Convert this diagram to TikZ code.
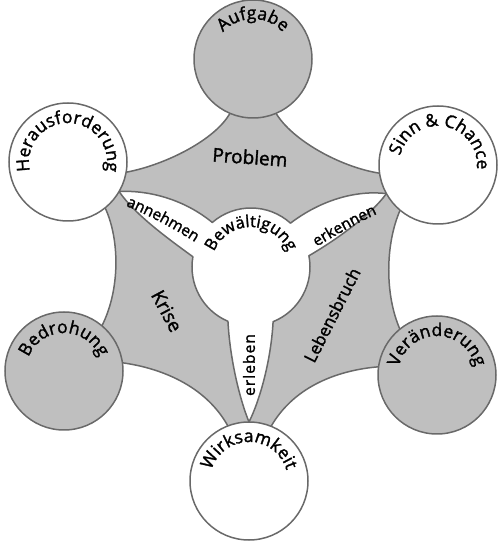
\documentclass[tikz,border=0pt]{standalone}
\usepackage{fontspec}
\setmainfont{Open Sans}[FakeBold=1.6]
\newfontfamily\stemfamily{Open Sans}[FakeBold=1.6,LetterSpace=7]
\usepackage{tikz}
\usetikzlibrary{calc,backgrounds,decorations.text}

\definecolor{zonegray}{RGB}{191,191,191}
\definecolor{edgegray}{RGB}{105,105,105}
\newcommand\ringfont{\fontsize{17.5}{20}\selectfont}
\newcommand\zonefont{\fontsize{19}{22}\selectfont}
\newcommand\leaffont{\fontsize{15.5}{18}\selectfont}

\begin{document}
\begin{tikzpicture}[x=1pt,y=1pt,
  ball/.style={circle,minimum size=118pt,inner sep=0pt,outer sep=0pt,draw=edgegray,line width=1.5pt},
  zone/.style={fill=zonegray,draw=edgegray,line width=1.5pt,line join=round},
  arclabel/.style={decorate,decoration={text along path,text align=center,text={|\ringfont|#1}}},
  leaflabel/.style={decorate,decoration={text along path,text align=center,text={|\leaffont|#1}}}]
\useasboundingbox (0,0) rectangle (500,541);
% the six circles
\node[ball,fill=zonegray] (auf) at (253,482) {};
\node[ball,fill=white] (hf) at (68,379) {};
\node[ball,fill=white] (sc) at (438,376) {};
\node[ball,fill=zonegray] (bd) at (64,170) {};
\node[ball,fill=zonegray] (vd) at (437,166) {};
\node[ball,fill=white] (wk) at (249,60) {};
\node[circle,minimum size=118pt,inner sep=0pt,outer sep=0pt] (core) at (251,274) {};
% gray zones between them
\begin{pgfonlayer}{background}
\draw[zone] (hf.-10) .. controls (165,376) and (215,401) .. (auf.247) -- (auf.center) -- (auf.293)
  .. controls (292,401) and (340,374) .. (sc.188) -- (sc.center) -- (sc.209)
  .. controls (356,351) and (321,341) .. (core.48) arc[start angle=48,end angle=131,radius=59]
  .. controls (185,341) and (150,351) .. (hf.-30) -- (hf.center) -- cycle;
\draw[zone] (hf.-30) .. controls (135,326) and (170,301) .. (core.170) arc[start angle=170,end angle=247,radius=59]
  .. controls (230,181) and (240,141) .. (wk.90) -- (wk.center) -- (wk.111)
  .. controls (205,156) and (160,173) .. (bd.8) -- (bd.center) -- (bd.50)
  .. controls (120,251) and (120,301) .. (hf.-51) -- (hf.center) -- cycle;
\draw[zone] (sc.209) .. controls (371,326) and (336,301) .. (core.11) arc[start angle=11,end angle=-68,radius=59]
  .. controls (271,181) and (260,141) .. (wk.90) -- (wk.center) -- (wk.68)
  .. controls (295,156) and (340,171) .. (vd.172) -- (vd.center) -- (vd.129)
  .. controls (385,246) and (385,296) .. (sc.230) -- (sc.center) -- cycle;
\end{pgfonlayer}
% curved labels
\path[arclabel=Aufgabe] (auf.center) ++(230:40) arc[start angle=230,end angle=-50,radius=40];
\path[arclabel=Herausforderung] (hf.center) ++(230:39) arc[start angle=230,end angle=-50,radius=39];
\path[arclabel={Sinn {\&} Chance}] (sc.center) ++(220:39) arc[start angle=220,end angle=-60,radius=39];
\path[arclabel=Bedrohung] (bd.center) ++(230:38) arc[start angle=230,end angle=-50,radius=38];
\path[arclabel=Veränderung] (vd.center) ++(230:39) arc[start angle=230,end angle=-50,radius=39];
\path[arclabel=Wirksamkeit] (wk.center) ++(230:39) arc[start angle=230,end angle=-50,radius=39];
\path[decorate,decoration={text along path,text align=center,text={|\fontsize{16.5}{20}\selectfont|Bewältigung}}]
  (core.center) ++(230:40) arc[start angle=230,end angle=-50,radius=40];
\path[leaflabel=annehmen] (116,339) .. controls (143,329) and (176,312) .. (204,293);
\path[leaflabel=erkennen] (303,286) .. controls (331,303) and (364,323) .. (392,333);
% straight labels
\node[rotate=-4,font=\zonefont] (problem) at (250,384) {Problem};
\node[rotate=-62,font=\zonefont] (krise) at (167,230) {Krise};
\node[rotate=63,font=\fontsize{17}{20}\selectfont] (bruch) at (332,226) {Lebensbruch};
\node[rotate=90,font=\leaffont\stemfamily] (erleben) at (249,176) {erleben};
\end{tikzpicture}
\end{document}
